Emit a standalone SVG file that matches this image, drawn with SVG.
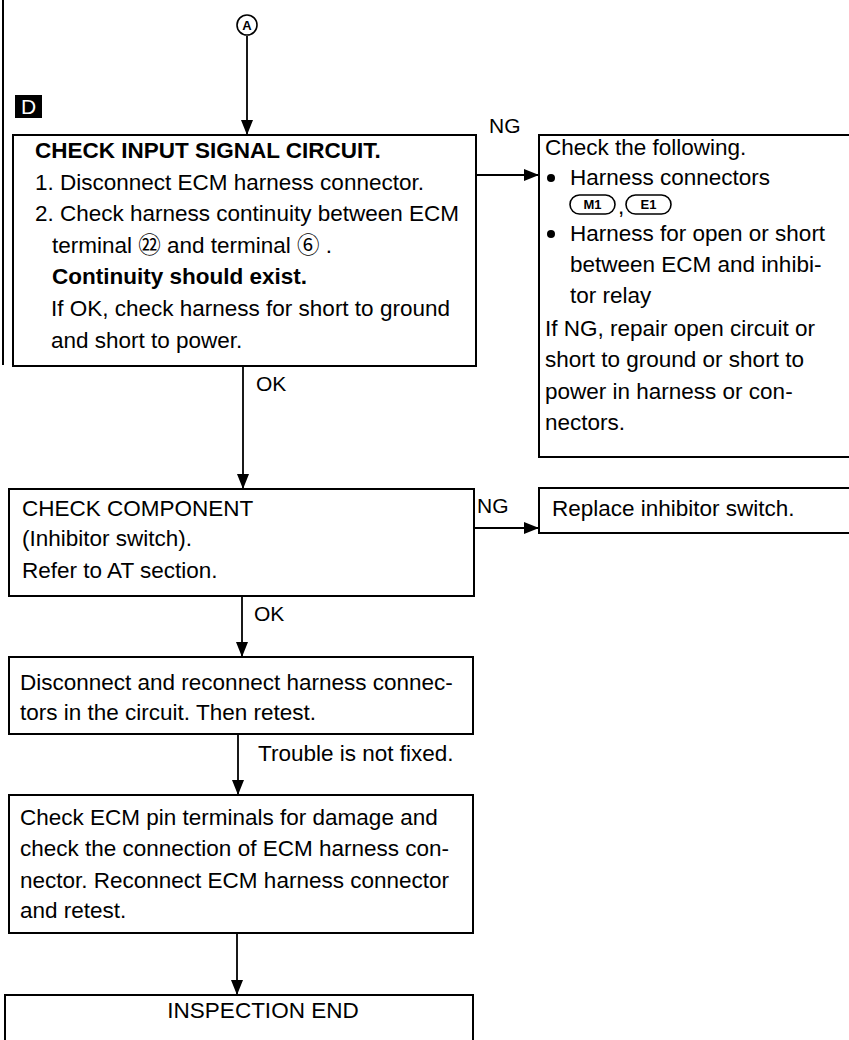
<svg xmlns="http://www.w3.org/2000/svg" width="849" height="1040" viewBox="0 0 849 1040">
<defs>
<marker id="ah" markerUnits="userSpaceOnUse" markerWidth="16" markerHeight="12" viewBox="0 0 16 12" refX="15" refY="6" orient="auto">
<path d="M0,0 L15,6 L0,12 Z" fill="#000"/>
</marker>
</defs>
<style>
text{font-family:"Liberation Sans","Noto Sans CJK JP",Arial,sans-serif;font-size:22.5px;fill:#000}
.b{font-weight:bold}
.lbl{font-size:21px}
.box{fill:#fff;stroke:#000;stroke-width:2}
.open{fill:none;stroke:#000;stroke-width:2}
.con{stroke:#000;stroke-width:1.8;fill:none}
.conn{font-size:13px;font-weight:bold}
.oval{fill:#fff;stroke:#000;stroke-width:1.6}
</style>
<rect width="849" height="1040" fill="#fff"/>
<line x1="3" y1="0" x2="3" y2="365" stroke="#000" stroke-width="2"/>

<g id="startA">
<circle cx="247" cy="25" r="10" fill="#fff" stroke="#000" stroke-width="1.6"/>
<text x="247" y="30" text-anchor="middle" style="font-size:13px;font-weight:bold">A</text>
</g>

<g id="labelD">
<rect x="15" y="95" width="27" height="23" fill="#000"/>
<text x="28.5" y="114" text-anchor="middle" style="font-size:21px;fill:#fff">D</text>
</g>

<g id="connectors">
<line class="con" x1="247" y1="36" x2="247" y2="135" marker-end="url(#ah)"/>
<line class="con" x1="476" y1="175" x2="539" y2="175" marker-end="url(#ah)"/>
<line class="con" x1="243" y1="366" x2="243" y2="489" marker-end="url(#ah)"/>
<line class="con" x1="474" y1="528" x2="539" y2="528" marker-end="url(#ah)"/>
<line class="con" x1="242" y1="596" x2="242" y2="657" marker-end="url(#ah)"/>
<line class="con" x1="238" y1="734" x2="238" y2="795" marker-end="url(#ah)"/>
<line class="con" x1="237" y1="933" x2="237" y2="995" marker-end="url(#ah)"/>
<text class="lbl" x="489" y="133">NG</text>
<text class="lbl" x="256" y="391">OK</text>
<text class="lbl" x="477" y="513">NG</text>
<text class="lbl" x="254" y="621">OK</text>
<text x="258" y="761">Trouble is not fixed.</text>
</g>

<g id="checkInputSignal">
<rect class="box" x="13" y="135" width="463" height="231"/>
<text class="b" x="35" y="158">CHECK INPUT SIGNAL CIRCUIT.</text>
<text x="35" y="190">1. Disconnect ECM harness connector.</text>
<text x="35" y="221">2. Check harness continuity between ECM</text>
<text x="52" y="253">terminal ㉒ and terminal ⑥ .</text>
<text class="b" x="52" y="284">Continuity should exist.</text>
<text x="51" y="316">If OK, check harness for short to ground</text>
<text x="51" y="348">and short to power.</text>
</g>

<g id="checkFollowing">
<path class="open" d="M849,135 H539 V457 H849"/>
<text x="545" y="155">Check the following.</text>
<circle cx="551" cy="178" r="4"/>
<text x="570" y="185">Harness connectors</text>
<rect class="oval" x="570" y="195" width="45" height="19" rx="9.5"/>
<text class="conn" x="592.5" y="209" text-anchor="middle">M1</text>
<text x="618" y="214">,</text>
<rect class="oval" x="626" y="195" width="45" height="19" rx="9.5"/>
<text class="conn" x="648.5" y="209" text-anchor="middle">E1</text>
<circle cx="551" cy="234" r="4"/>
<text x="570" y="241">Harness for open or short</text>
<text x="570" y="272">between ECM and inhibi-</text>
<text x="570" y="303">tor relay</text>
<text x="545" y="336">If NG, repair open circuit or</text>
<text x="545" y="367">short to ground or short to</text>
<text x="545" y="399">power in harness or con-</text>
<text x="545" y="430">nectors.</text>
</g>

<g id="checkComponent">
<rect class="box" x="9" y="489" width="465" height="107"/>
<text x="22" y="516">CHECK COMPONENT</text>
<text x="22" y="546">(Inhibitor switch).</text>
<text x="22" y="578">Refer to AT section.</text>
</g>

<g id="replaceSwitch">
<path class="open" d="M849,488 H539 V533 H849"/>
<text x="552" y="516">Replace inhibitor switch.</text>
</g>

<g id="reconnect">
<rect class="box" x="9" y="657" width="464" height="77"/>
<text x="20" y="690">Disconnect and reconnect harness connec-</text>
<text x="20" y="720">tors in the circuit. Then retest.</text>
</g>

<g id="checkPins">
<rect class="box" x="9" y="795" width="464" height="138"/>
<text x="20" y="825">Check ECM pin terminals for damage and</text>
<text x="20" y="856">check the connection of ECM harness con-</text>
<text x="20" y="888">nector. Reconnect ECM harness connector</text>
<text x="20" y="918">and retest.</text>
</g>

<g id="inspectionEnd">
<path class="box" d="M5,1045 V995 H473 V1045"/>
<text x="263" y="1018" text-anchor="middle">INSPECTION END</text>
</g>
</svg>
